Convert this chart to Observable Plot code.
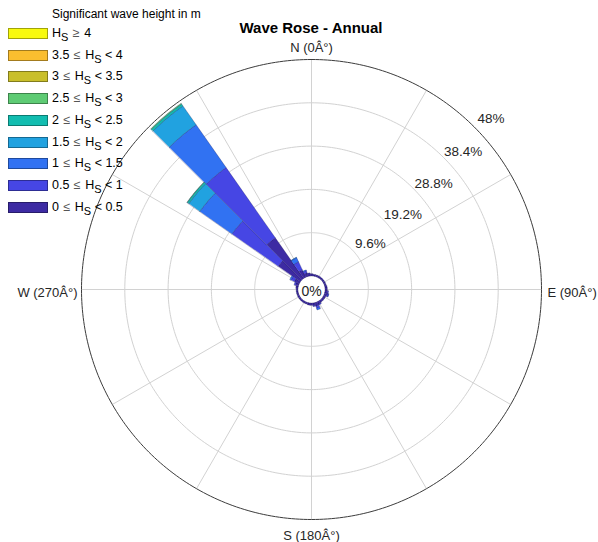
<!DOCTYPE html>
<html>
<head>
<meta charset="utf-8">
<script src="https://cdn.jsdelivr.net/npm/d3@7"></script>
<script src="https://cdn.jsdelivr.net/npm/@observablehq/plot@0.6"></script>
<style>
  html, body { margin: 0; padding: 0; background: #fff; overflow: hidden; }
  body { font-family: "Liberation Sans", Arial, Helvetica, sans-serif; color: #262626; }
  #wrap { position: relative; width: 598px; height: 542px; }
  #title { position: absolute; left: 211px; width: 200px; top: 19px; text-align: center;
           font-weight: bold; font-size: 15px; color: #000; white-space: nowrap; }
  #legend { position: absolute; left: 0; top: 0; font-size: 12px; color: #000; }
  #legend .head { position: absolute; left: 52px; top: 7px; white-space: nowrap; }
  #legend .row { position: absolute; left: 8px; height: 12px; white-space: nowrap; }
  #legend .sw { position: absolute; left: 0; top: 0; width: 40px; height: 11px;
                border: 1px solid rgba(0,0,0,0.35); box-sizing: border-box; }
  #legend .lab { position: absolute; left: 44px; top: -2px; line-height: 14px; font-size: 12.5px; }
  #legend .lab sub { font-size: 11px; vertical-align: -4px; line-height: 0; }
  #legend .op { color: #555; padding: 0 1px; }
</style>
</head>
<body>
<div id="wrap">
  <div id="chart"></div>
  <div id="title">Wave Rose - Annual</div>
  <div id="legend"></div>
</div>
<script>
// Direction bins (degrees, clockwise from north), 10° wide
const directions = [0,10,20,30,40,50,60,70,80,90,100,110,120,130,140,150,160,170,
                    180,190,200,210,220,230,240,250,260,270,280,290,300,310,320,330,340,350];

// Frequency (%) per direction bin for each significant wave height class
const hs0_05 = [0.5,0.4,0.4,0.4,0.4,0.4,0.4,0.4,0.5,0.5,0.6,0.6,0.5,0.5,0.5,0.6,0.8,0.6,
                0.5,0.5,0.4,0.4,0.4,0.4,0.4,0.4,0.4,0.4,0.5,0.7,1.2,6.0,11.0,1.8,0.8,0.6];
const hs05_1  = [0,0,0,0,0,0,0,0,0,0,0.2,0.3,0,0,0,0.2,0.5,0.2,
                 0,0,0,0,0,0,0,0,0,0,0,0.3,0.8,12.5,19.0,2.0,0.5,0.1];
const hs1_15  = [0,0,0,0,0,0,0,0,0,0,0,0.1,0,0,0,0,0.4,0,
                 0,0,0,0,0,0,0,0,0,0,0,0,0.3,8.7,11.6,1.0,0.2,0];
const hs15_2  = [0,0,0,0,0,0,0,0,0,0,0,0,0,0,0,0,0,0,
                 0,0,0,0,0,0,0,0,0,0,0,0,0,3.0,5.1,0.1,0,0];
const hs2_25  = [0,0,0,0,0,0,0,0,0,0,0,0,0,0,0,0,0,0,
                 0,0,0,0,0,0,0,0,0,0,0,0,0,0.4,0.5,0,0,0];
const hs25_3  = [0,0,0,0,0,0,0,0,0,0,0,0,0,0,0,0,0,0,
                 0,0,0,0,0,0,0,0,0,0,0,0,0,0.1,0.2,0,0,0];
const hs3_35  = [0,0,0,0,0,0,0,0,0,0,0,0,0,0,0,0,0,0,
                 0,0,0,0,0,0,0,0,0,0,0,0,0,0,0,0,0,0];
const hs35_4  = [0,0,0,0,0,0,0,0,0,0,0,0,0,0,0,0,0,0,
                 0,0,0,0,0,0,0,0,0,0,0,0,0,0,0,0,0,0];
const hs4_up  = [0,0,0,0,0,0,0,0,0,0,0,0,0,0,0,0,0,0,
                 0,0,0,0,0,0,0,0,0,0,0,0,0,0,0,0,0,0];

// Classes from lowest to highest
const classSeries = [hs0_05, hs05_1, hs1_15, hs15_2, hs2_25, hs25_3, hs3_35, hs35_4, hs4_up];
const classLow  = ["0", "0.5", "1", "1.5", "2", "2.5", "3", "3.5", "4"];
const classHigh = ["0.5", "1", "1.5", "2", "2.5", "3", "3.5", "4", null];
const classColors = ["#3d2ba3", "#4646e4", "#3172f2", "#21a2e0", "#12bdb0",
                     "#5ecb74", "#c9bf2b", "#fbbe2f", "#f8fa0d"];

// Radial axis
const ringTicks = [9.6, 19.2, 28.8, 38.4, 48];
const ringLabels = ["9.6%", "19.2%", "28.8%", "38.4%", "48%"];
const compassAngles = [0, 90, 180, 270];
const compassLabels = ["N (0Â°)", "E (90Â°)", "S (180Â°)", "W (270Â°)"];

// Geometry
const W = 598, H = 542;
const cx = 311, cy = 289;          // pixel position of the rose centre
const hole = 3.0;                  // empty centre, in % units
const rMax = ringTicks[ringTicks.length - 1];
const R = hole + rMax;             // outer ring radius in plot units
const k = 230 / R;                 // pixels per unit
const rad = d => d * Math.PI / 180;
const px = (r, a) => r * Math.sin(rad(a));
const py = (r, a) => r * Math.cos(rad(a));

// Stacked wedge polygons
const wedges = [];
directions.forEach((dir, i) => {
  let cum = 0;
  classSeries.forEach((series, c) => {
    const v = series[i];
    if (!v) return;
    const r0 = hole + cum, r1 = hole + cum + v;
    cum += v;
    const id = `${dir}-${c}`;
    for (let a = dir - 5; a <= dir + 5 + 1e-9; a += 0.5) wedges.push({id, c, x: px(r1, a), y: py(r1, a)});
    for (let a = dir + 5; a >= dir - 5 - 1e-9; a -= 0.5) wedges.push({id, c, x: px(r0, a), y: py(r0, a)});
  });
});

// Grid circles
const circle = r => d3.range(0, 361, 1).map(a => ({r, x: px(r, a), y: py(r, a)}));
const innerRings = ringTicks.slice(0, -1).flatMap(t => circle(hole + t));
const outerRing = circle(R);

// Spokes every 30°
const spokes = d3.range(0, 360, 30).map(a => ({x1: px(hole, a), y1: py(hole, a), x2: px(R, a), y2: py(R, a)}));

// Ring value labels
const ringText = ringTicks.map((t, i) => {
  const a = 52 - 1.4 * i;
  const r = hole + t + 18 / k;
  return {x: px(r, a), y: py(r, a), label: ringLabels[i]};
});

// Compass labels
const compassText = compassAngles.map((a, i) => ({
  x: px(R, a), y: py(R, a), label: compassLabels[i], a
}));

const font = "Liberation Sans, Arial, Helvetica, sans-serif";
const txt = {x: "x", y: "y", text: "label", fontSize: 13, fill: "#262626"};

const chart = Plot.plot({
  width: W, height: H, margin: 0,
  x: {domain: [-cx / k, (W - cx) / k], axis: null},
  y: {domain: [-(H - cy) / k, cy / k], axis: null},
  style: {fontFamily: font, background: "white"},
  marks: [
    Plot.line(innerRings, {x: "x", y: "y", z: "r", stroke: "#d2d2d2", strokeWidth: 1}),
    Plot.link(spokes, {x1: "x1", y1: "y1", x2: "x2", y2: "y2", stroke: "#d2d2d2", strokeWidth: 1}),
    ...classColors.map((col, c) =>
      Plot.line(wedges.filter(d => d.c === c), {
        x: "x", y: "y", z: "id", curve: "linear-closed",
        fill: col, stroke: "#10104a", strokeOpacity: 0.45, strokeWidth: 0.6
      })),
    Plot.line(outerRing, {x: "x", y: "y", stroke: "#3c3c3c", strokeWidth: 1}),
    Plot.text(ringText, {...txt, fontSize: 13.5}),
    Plot.text(compassText.filter(d => d.a === 0), {...txt, dy: -12}),
    Plot.text(compassText.filter(d => d.a === 180), {...txt, dy: 16}),
    Plot.text(compassText.filter(d => d.a === 90), {...txt, textAnchor: "start", dx: 6, dy: 3}),
    Plot.text(compassText.filter(d => d.a === 270), {...txt, textAnchor: "end", dx: -4, dy: 3}),
    Plot.text([{x: 0, y: 0}], {x: "x", y: "y", text: () => "0%", fontSize: 14, fill: "#262626", dy: 2})
  ]
});
document.getElementById("chart").appendChild(chart);

// Legend, highest class on top
const legend = document.getElementById("legend");
const head = document.createElement("div");
head.className = "head";
head.textContent = "Significant wave height in m";
legend.appendChild(head);
const order = d3.range(classColors.length).reverse();
order.forEach((c, i) => {
  const row = document.createElement("div");
  row.className = "row";
  row.style.top = (28 + 21.7 * i) + "px";
  const sw = document.createElement("div");
  sw.className = "sw";
  sw.style.background = classColors[c];
  const lab = document.createElement("div");
  lab.className = "lab";
  lab.innerHTML = classHigh[c] === null
    ? `H<sub>S</sub> <span class="op">≥</span> ${classLow[c]}`
    : `${classLow[c]} <span class="op">≤</span> H<sub>S</sub> &lt; ${classHigh[c]}`;
  row.appendChild(sw);
  row.appendChild(lab);
  legend.appendChild(row);
});
</script>
</body>
</html>
